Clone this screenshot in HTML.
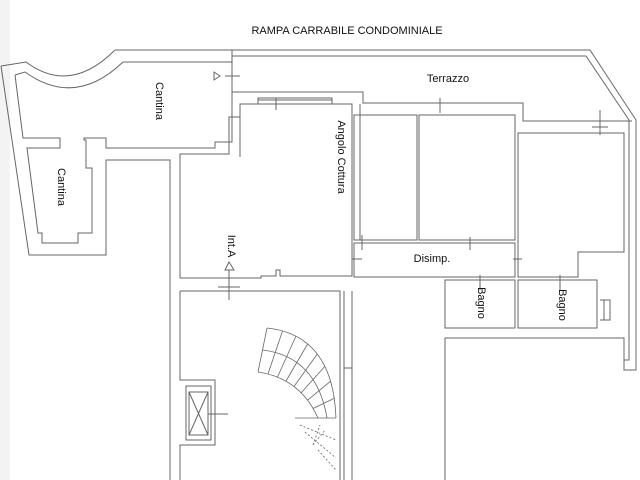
<!DOCTYPE html>
<html><head><meta charset="utf-8"><style>
html,body{margin:0;padding:0;background:#fff;width:640px;height:480px;overflow:hidden}
svg{display:block}
text{font-family:"Liberation Sans",sans-serif;font-size:11px;fill:#111}
</style></head><body>
<svg width="640" height="480" viewBox="0 0 640 480" fill="none" stroke="#666" stroke-width="1">
<rect x="0" y="0" width="10" height="480" fill="#f3f3f3" stroke="none"/>
<text x="347" y="34" text-anchor="middle" stroke="none">RAMPA CARRABILE CONDOMINIALE</text>
<path d="M115,50 L590,50 L636,120 L636,370 L624,370 L624,338 L445,338 L445,370"/>
<path d="M123,62 L232,62 M232,56 L586,56 L629,120 L629,360 L624,360"/>
<path d="M232,50 L232,92 L363,92 L363,103 L523,103 L523,121 L632,121"/>
<path d="M1,66 L26,62 Q70,95 115,50"/>
<path d="M15,75 L25,72 Q75,108 123,62"/>
<path d="M1,66 L29,255 L106,255 L106,160 L170,160 L170,480"/>
<path d="M15,75 L23,138 L60,138 L60,148 L27,148 L38,233 L42,233 L42,243 L78,243 L78,233 L92,233 L92,168 L86,168 L86,140 L84,140 L84,138 L106,138 L106,148 L215,148 L215,142 L232,142 L232,62"/>
<path d="M240,157 L240,117 M229,153 L229,117"/>
<path d="M180,278 L180,154 L229,154 L229,117 L240,117 L240,104 L352,104 L352,276 L280,276 L280,270 L276,270 L276,276 L261,276 L261,278 L180,278"/>
<path d="M258,104 L258,98 L332,98 L332,104 M258,100 L332,100"/>
<path d="M360,104 L360,240"/>
<path d="M354,115 L417,115 L417,240 L354,240 Z M419,115 L515,115 L515,240 L419,240 Z"/>
<path d="M354,243 L515,243 L515,277 L354,277 Z"/>
<path d="M518,133 L624,133 L624,252 L578,252 L578,277 L518,277 Z"/>
<path d="M445,280 L515,280 L515,328 L445,328 Z M518,280 L597,280 L597,328 L518,328 Z"/>
<path d="M600,300 L610,300 L610,320 L600,320 M604,300 L604,320"/>
<path d="M445,338 L445,480 M624,338 L624,370"/>
<path d="M180,291 L340,291 L340,480 M180,291 L180,380 L215,380 L215,445 L180,445 L180,480"/>
<path d="M186,386 L211,386 L211,440 L186,440 Z M189,392 L208,392 L208,435 L189,435 Z M189,392 L208,435 M208,392 L189,435"/>
<path d="M208,414 L228,414"/>
<path d="M344,291 L344,480 M352,291 L352,480 M344,368 L352,368"/>
<g stroke-width=".8">
<path d="M267,328 Q333,335 336,418"/>
<path d="M262.5,350 Q316.5,356.5 327,418"/>
<path d="M258,372 Q300,378 318,418"/>
<path d="M267,328 L258,372 M282.5,331 L268,374 M296,336 L277.5,377 M307.6,344 L286,381 M317.3,354 L294,386.5 M324.8,366.4 L301,393 M330.6,381.2 L307.5,400.2 M334.2,398.4 L313,408.5 M295,418 L336,418"/>
<path d="M300,425 L336,440 M305,432 L336,458 M313,445 L320,425 M313,445 L325,430 M318,450 L336,470" stroke-dasharray="2,2"/>
</g>
<path d="M229,270 L229,300 M218,287 L240,287 M225,76 L240,76 M276,98 L276,110 M600,110 L600,135 M440,98 L440,113 M362,235 L362,250 M352,259 L362,259 M513,259 L522,259 M470,237 L470,250 M480,275 L480,290 M560,275 L560,290 M592,127 L608,127"/>
<path d="M220,76 L214,72 L214,80 Z M229,262 L225,270 L234,270 Z"/>
<g stroke="none">
<text transform="translate(156,101) rotate(90)" text-anchor="middle">Cantina</text>
<text transform="translate(58,187) rotate(90)" text-anchor="middle">Cantina</text>
<text transform="translate(338,157) rotate(90)" text-anchor="middle">Angolo Cottura</text>
<text transform="translate(228,246) rotate(90)" text-anchor="middle">Int.A</text>
<text x="448" y="82" text-anchor="middle">Terrazzo</text>
<text x="432" y="262" text-anchor="middle">Disimp.</text>
<text transform="translate(478,303) rotate(90)" text-anchor="middle">Bagno</text>
<text transform="translate(559,305) rotate(90)" text-anchor="middle">Bagno</text>
</g>
</svg>
</body></html>
